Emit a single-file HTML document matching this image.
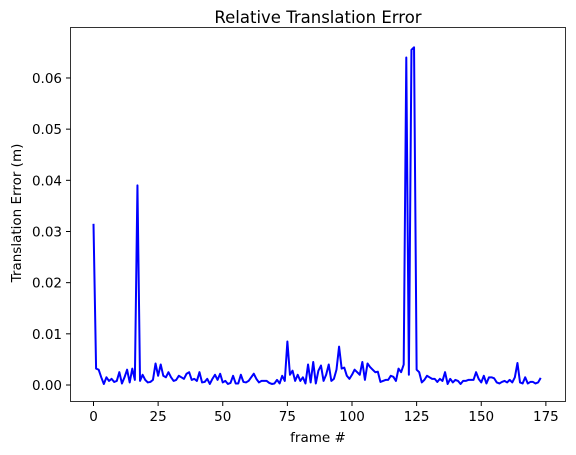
<!DOCTYPE html>
<html><head><meta charset="utf-8"><style>
body{margin:0;background:#fff;}
svg{display:block;font-family:"DejaVu Sans","Liberation Sans",sans-serif;}
</style></head><body>
<svg id="chart" width="576" height="455">
<text x="318" y="23" font-size="16.5" text-anchor="middle">Relative Translation Error</text>
<text x="318" y="442" font-size="13.5" text-anchor="middle">frame #</text>
<text transform="translate(21,213) rotate(-90)" font-size="13.5" text-anchor="middle">Translation Error (m)</text>
<g id="ticks"></g>
<polyline id="line" fill="none" stroke="#0000ff" stroke-width="2" stroke-linejoin="round"/>
<rect x="70.5" y="27.5" width="495" height="374" fill="none" stroke="#000" stroke-width="0.8"/>
</svg>
<script>
const xTicks=[0,25,50,75,100,125,150,175];
const yTicks=[0,0.01,0.02,0.03,0.04,0.05,0.06];
const yTickLabels=["0.00","0.01","0.02","0.03","0.04","0.05","0.06"];
const errors=[31.5,3.2,3.0,1.5,0.2,1.5,0.8,1.2,0.6,0.8,2.5,0.3,1.5,3.0,0.5,3.2,1.0,39.0,0.8,2.0,1.0,0.5,0.6,1.0,4.2,1.8,4.0,1.8,1.5,2.5,1.5,0.8,1.0,1.8,1.5,1.2,2.2,2.5,1.0,1.2,0.8,2.5,0.5,0.6,1.2,0.2,1.2,2.0,1.0,2.2,0.5,0.8,0.2,0.4,1.8,0.3,0.3,2.0,0.6,0.5,0.8,1.5,2.2,1.2,0.5,0.8,0.8,0.8,0.4,0.2,0.3,1.0,0.3,1.8,0.8,8.5,2.0,2.8,0.8,2.0,0.8,1.5,0.3,4.0,0.5,4.5,0.3,2.8,3.8,0.8,2.0,4.0,0.8,1.2,3.0,7.5,3.2,3.4,1.8,1.2,2.0,3.0,2.5,2.0,4.5,1.0,4.2,3.5,3.0,2.5,2.6,0.6,0.8,1.0,1.0,1.8,1.6,0.8,3.2,2.5,4.0,64.0,2.0,65.5,66.0,3.0,2.5,0.5,1.0,1.8,1.5,1.2,1.2,0.6,1.2,0.8,2.5,0.2,1.2,0.5,1.0,0.8,0.2,0.8,0.8,1.0,1.0,1.0,2.5,1.2,0.5,1.8,0.3,1.5,1.5,1.3,0.5,0.3,0.6,0.8,0.5,1.0,0.5,1.5,4.3,0.5,0.3,1.5,0.3,0.6,0.6,0.3,0.5,1.4];
const X=v=>93.5+v*2.585;
const Y=v=>385-v*5117;
const NS='http://www.w3.org/2000/svg';
const g=document.getElementById('ticks');
xTicks.forEach(t=>{
 const l=document.createElementNS(NS,'line');
 l.setAttribute('x1',X(t));l.setAttribute('x2',X(t));l.setAttribute('y1',401.5);l.setAttribute('y2',406);l.setAttribute('stroke','#000');
 
 
 g.appendChild(l);
 const s=document.createElementNS(NS,'text');
 s.setAttribute('x',X(t));s.setAttribute('y',421);s.setAttribute('font-size','13.5');s.setAttribute('text-anchor','middle');
 s.textContent=t;
 
 
 g.appendChild(s);
});
yTicks.forEach((t,i)=>{
 const l=document.createElementNS(NS,'line');
 l.setAttribute('x1',66);l.setAttribute('x2',70.5);l.setAttribute('y1',Y(t));l.setAttribute('y2',Y(t));l.setAttribute('stroke','#000');
 
 
 g.appendChild(l);
 const s=document.createElementNS(NS,'text');
 s.setAttribute('x',62);s.setAttribute('y',Y(t)+5);s.setAttribute('font-size','13.5');s.setAttribute('text-anchor','end');
 s.textContent=yTickLabels[i];
 
 
 g.appendChild(s);
});
document.getElementById('line').setAttribute('points',errors.map((v,i)=>X(i)+','+Y(v/1000)).join(' '));
</script>
</body></html>
